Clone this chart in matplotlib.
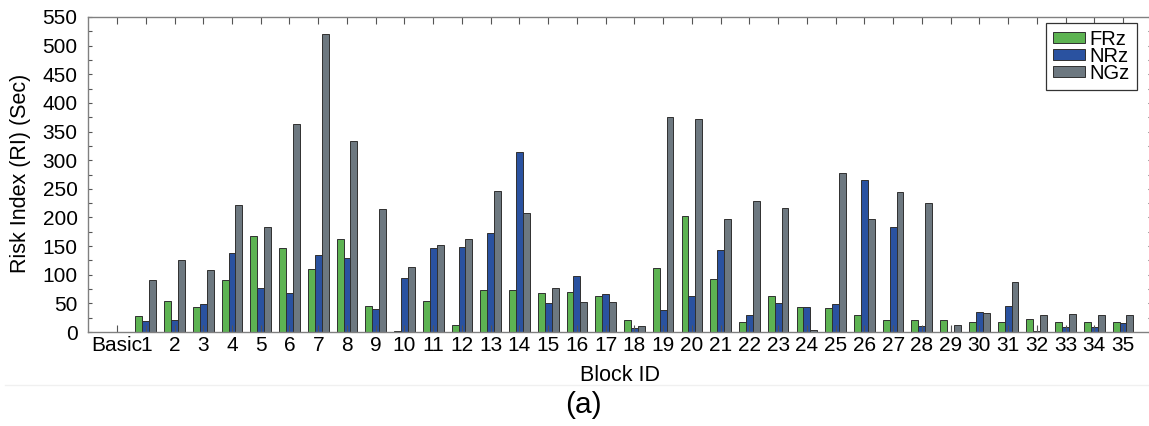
import matplotlib
matplotlib.use("Agg")
import matplotlib.pyplot as plt
import numpy as np
from matplotlib.lines import Line2D

plt.rcParams['font.family'] = ['Liberation Sans', 'DejaVu Sans']

# block ids (Basic + 1..35)
labels = ['Basic'] + [str(i) for i in range(1, 36)]

frz = [0, 28, 54, 43, 91, 168, 147, 110, 162, 46,
       2, 55, 13, 73, 73, 68, 70, 63, 21, 112,
       202, 92, 18, 62, 43, 42, 30, 21, 21, 21,
       18, 18, 23, 18, 18, 18]
nrz = [0, 19, 21, 49, 138, 77, 68, 135, 130, 41,
       95, 147, 149, 172, 315, 51, 98, 66, 7, 38,
       62, 144, 29, 51, 43, 49, 265, 183, 10, 0,
       35, 46, 2, 8, 8, 16]
ngz = [0, 90, 125, 109, 221, 183, 363, 521, 334, 215,
       113, 152, 162, 247, 208, 76, 53, 53, 11, 376,
       372, 197, 228, 216, 4, 278, 197, 244, 226, 12,
       34, 88, 30, 31, 30, 29]

W, H = 1149, 426
fs = 15
fig = plt.figure(figsize=(W / 100, H / 100), dpi=100)
ax = fig.add_axes([88 / W, 1 - 332 / H, 1063.5 / W, 315 / H])

x = np.arange(len(labels))
bw = 0.24
edge = '#303030'
ax.bar(x - bw, frz, bw, color='#5db352', edgecolor=edge, linewidth=0.7, label='FRz')
ax.bar(x, nrz, bw, color='#2a52a0', edgecolor=edge, linewidth=0.7, label='NRz')
ax.bar(x + bw, ngz, bw, color='#6d7880', edgecolor=edge, linewidth=0.7, label='NGz')

ax.set_xlim(-1.01, 35.99)
ax.set_ylim(0, 550)
ax.set_xticks(x)
ax.set_xticklabels(labels)
ax.set_yticks(np.arange(0, 551, 50))
ax.set_yticks(np.arange(0, 551, 25), minor=True)

for s in ax.spines.values():
    s.set_color('#808080')
    s.set_linewidth(1.0)

ax.tick_params(axis='x', direction='in', top=True, length=5, width=0.8,
               color='#555555', labelsize=fs, pad=3)
ax.tick_params(axis='y', which='both', direction='in', right=True, length=3,
               width=0.8, color='#555555', labelsize=fs, pad=7.5)

fig.text(21 / W, 1 - 173 / H, 'Risk Index (RI) (Sec)', rotation=90,
         ha='center', va='center', fontsize=15.5)
fig.text(620 / W, 1 - 375.5 / H, 'Block ID', ha='center', va='center', fontsize=15.5)
fig.text(583 / W, 1 - 405 / H, '(a)', ha='center', va='center', fontsize=21.5)

# faint separator line
fig.add_artist(Line2D([5 / W, 1], [1 - 385 / H] * 2, color='#f0f0f0',
                      linewidth=1, transform=fig.transFigure))

leg = ax.legend(loc='upper right', bbox_to_anchor=(1137 / W, 1 - 22.5 / H),
                bbox_transform=fig.transFigure, borderaxespad=0,
                fancybox=False, edgecolor='#333333', framealpha=1,
                fontsize=14.5, handlelength=1.55, handleheight=0.5,
                handletextpad=0.25, labelspacing=-0.1, borderpad=0.35)
leg.get_frame().set_linewidth(0.9)

fig.savefig('out.png', dpi=100)
